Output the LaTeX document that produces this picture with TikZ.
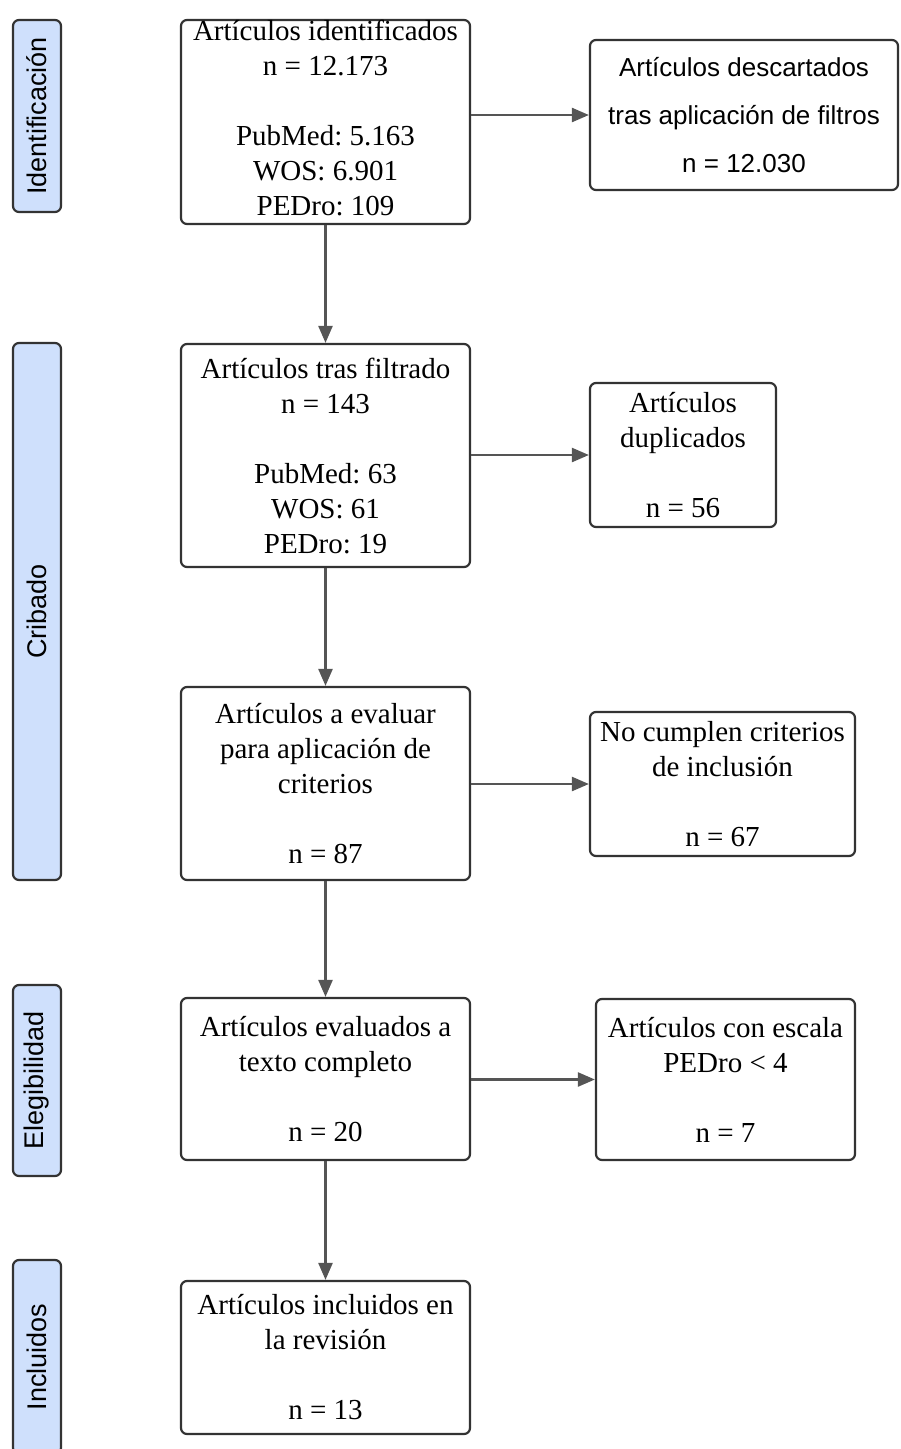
\documentclass[tikz,border=0pt]{standalone}
\usepackage{fontspec}
\setmainfont{Liberation Serif}
\setsansfont{Liberation Sans}
\frenchspacing
\usepackage{tikz}
\usetikzlibrary{arrows.meta}
\definecolor{FaseAzul}{RGB}{207,224,252}
\definecolor{BordeGris}{RGB}{51,51,51}
\definecolor{FlechaGris}{RGB}{85,85,85}

\begin{document}
\begin{tikzpicture}[x=1pt, y=-1pt,
  caja/.style={draw=BordeGris, line width=2.2pt, rounded corners=6pt, inner sep=0pt,
               align=center, font=\fontsize{29}{35}\selectfont},
  fase/.style={draw=BordeGris, fill=FaseAzul, line width=2.2pt, rounded corners=6pt, inner sep=0pt,
               rotate=90, minimum height=48pt, font=\sffamily\fontsize{27}{30}\selectfont},
  flecha/.style={draw=FlechaGris, line width=2.4pt, -{Triangle[length=17pt, width=14pt]}}]
  \useasboundingbox (0,0) rectangle (900,1449);

  % fases
  \node[fase, minimum width=192pt] (faseIdent) at (37,116) {Identificación};
  \node[fase, minimum width=537pt] (faseCrib) at (37,611.5) {Cribado};
  \node[fase, minimum width=191pt] (faseEleg) at (37,1080.5) {Elegibilidad};
  \node[fase, minimum width=194pt] (faseIncl) at (37,1357) {Incluidos};

  % columna principal
  \node[caja, minimum width=289pt, minimum height=204pt, text depth=8pt] (identif) at (325.5,122)
    {Artículos identificados\\n = 12.173\\[35pt]PubMed: 5.163\\WOS: 6.901\\PEDro: 109};
  \node[caja, minimum width=289pt, minimum height=223pt] (filtrado) at (325.5,455.5)
    {Artículos tras filtrado\\n = 143\\[35pt]PubMed: 63\\WOS: 61\\PEDro: 19};
  \node[caja, minimum width=289pt, minimum height=193pt] (evaluar) at (325.5,783.5)
    {Artículos a evaluar\\para aplicación de\\criterios\\[35pt]n = 87};
  \node[caja, minimum width=289pt, minimum height=162pt] (completo) at (325.5,1079)
    {Artículos evaluados a\\texto completo\\[35pt]n = 20};
  \node[caja, minimum width=289pt, minimum height=153pt] (incluidos) at (325.5,1357.5)
    {Artículos incluidos en\\la revisión\\[35pt]n = 13};

  % exclusiones
  \node[caja, minimum width=308pt, minimum height=150pt,
        font=\sffamily\fontsize{26}{48}\selectfont] (descartados) at (744,115)
    {Artículos descartados\\tras aplicación de filtros\\n = 12.030};
  \node[caja, minimum width=186pt, minimum height=144pt] (duplicados) at (683,455)
    {Artículos\\duplicados\\[35pt]n = 56};
  \node[caja, minimum width=265pt, minimum height=144pt] (nocumplen) at (722.5,784)
    {No cumplen criterios\\de inclusión\\[35pt]n = 67};
  \node[caja, minimum width=259pt, minimum height=161pt] (escala) at (725.5,1079.5)
    {Artículos con escala\\PEDro < 4\\[35pt]n = 7};

  % flechas
  \draw[flecha] (identif) -- (filtrado);
  \draw[flecha] (filtrado) -- (evaluar);
  \draw[flecha] (evaluar) -- (completo);
  \draw[flecha] (completo) -- (incluidos);
  \draw[flecha] (identif.east |- descartados.west) -- (descartados.west);
  \draw[flecha] (filtrado.east |- duplicados.west) -- (duplicados.west);
  \draw[flecha] (evaluar.east |- nocumplen.west) -- (nocumplen.west);
  \draw[flecha] (completo.east |- escala.west) -- (escala.west);
\end{tikzpicture}
\end{document}
